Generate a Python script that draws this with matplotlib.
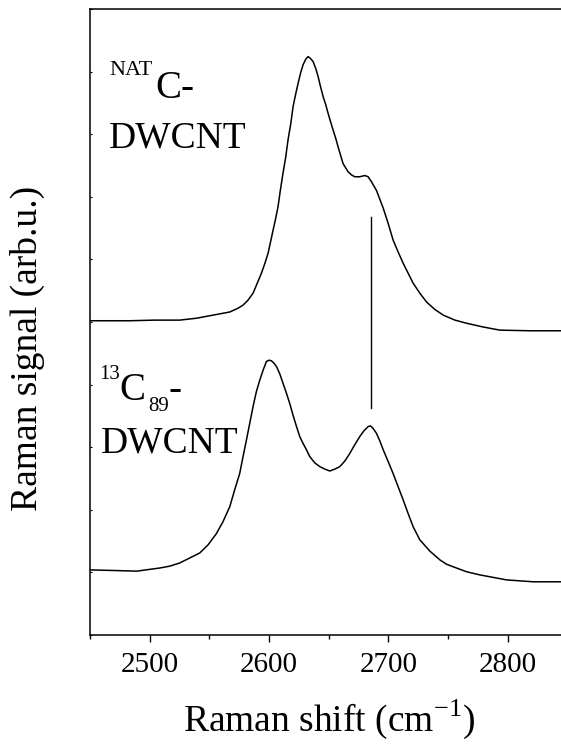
import numpy as np
import matplotlib
matplotlib.use("Agg")
import matplotlib.pyplot as plt
from matplotlib.ticker import MultipleLocator

plt.rcParams['font.family'] = ['Liberation Serif', 'DejaVu Serif']
plt.rcParams['mathtext.fontset'] = 'custom'
plt.rcParams['mathtext.rm'] = 'Liberation Serif'

# espectro natC-DWCNT (curva de arriba)
x_nat = [2450.5, 2483.2, 2504.2, 2525.1, 2539.1, 2553.1, 2567.1, 2574.0, 2578.2, 2582.4,
         2586.6, 2589.9, 2593.6, 2596.4, 2599.2, 2603.4, 2605.6, 2607.5, 2609.5, 2611.7,
         2614.0, 2615.9, 2618.2, 2620.1, 2622.4, 2624.3, 2626.3, 2628.5, 2630.8, 2632.7,
         2634.7, 2636.9, 2639.1, 2641.1, 2643.1, 2645.3, 2647.5, 2649.5, 2651.5, 2653.6,
         2655.9, 2657.8, 2659.8, 2662.0, 2666.2, 2669.0, 2671.8, 2676.0, 2680.2, 2683.0,
         2685.8, 2690.0, 2692.8, 2695.6, 2699.7, 2703.9, 2708.1, 2712.3, 2716.5, 2720.7,
         2726.3, 2731.9, 2738.9, 2745.9, 2755.7, 2765.5, 2779.4, 2793.4, 2818.5, 2844.5,
         2850]
y_nat = [5.02, 5.02, 5.03, 5.03, 5.06, 5.11, 5.16, 5.22, 5.27, 5.35,
         5.46, 5.61, 5.78, 5.93, 6.10, 6.47, 6.66, 6.84, 7.11, 7.38,
         7.64, 7.91, 8.17, 8.44, 8.65, 8.81, 8.97, 9.11, 9.20, 9.24,
         9.21, 9.16, 9.05, 8.92, 8.76, 8.60, 8.47, 8.33, 8.20, 8.07,
         7.93, 7.80, 7.67, 7.53, 7.40, 7.35, 7.32, 7.32, 7.34, 7.32,
         7.24, 7.10, 6.96, 6.82, 6.58, 6.31, 6.12, 5.94, 5.78, 5.62,
         5.46, 5.32, 5.20, 5.11, 5.03, 4.98, 4.92, 4.87, 4.86, 4.86,
         4.86]

# espectro 13C89-DWCNT (curva de abajo)
x_13c = [2449.7, 2470.7, 2489.1, 2508.4, 2516.8, 2525.1, 2533.5, 2541.9, 2548.9, 2555.9,
         2561.4, 2567.1, 2571.2, 2575.4, 2578.2, 2581.1, 2583.8, 2586.6, 2589.4, 2592.2,
         2595.0, 2597.8, 2600.0, 2602.0, 2604.2, 2606.2, 2609.0, 2611.7, 2614.6, 2617.3,
         2620.1, 2623.0, 2625.7, 2628.5, 2631.3, 2634.1, 2638.3, 2642.5, 2646.7, 2650.9,
         2655.1, 2659.3, 2663.5, 2667.6, 2671.8, 2676.0, 2679.4, 2683.0, 2685.0, 2687.2,
         2690.0, 2692.8, 2695.6, 2699.8, 2703.9, 2708.1, 2712.3, 2716.5, 2720.7, 2726.3,
         2734.7, 2743.1, 2748.7, 2754.2, 2765.5, 2776.6, 2787.8, 2799.0, 2821.3, 2843.7,
         2850]
y_13c = [1.04, 1.03, 1.02, 1.07, 1.10, 1.15, 1.23, 1.31, 1.44, 1.62,
         1.81, 2.05, 2.32, 2.58, 2.85, 3.12, 3.38, 3.65, 3.89, 4.07,
         4.23, 4.37, 4.39, 4.38, 4.34, 4.29, 4.17, 4.02, 3.86, 3.70,
         3.51, 3.33, 3.17, 3.06, 2.96, 2.85, 2.75, 2.69, 2.65, 2.62,
         2.65, 2.69, 2.78, 2.90, 3.04, 3.17, 3.26, 3.33, 3.34, 3.30,
         3.22, 3.10, 2.96, 2.77, 2.58, 2.37, 2.16, 1.94, 1.73, 1.52,
         1.34, 1.20, 1.13, 1.09, 1.01, 0.96, 0.92, 0.88, 0.85, 0.85,
         0.85]

# linea vertical en la banda G' del 13C
x_mark = 2685
y_mark = [3.63, 6.68]

fig = plt.figure(figsize=(5.61, 7.46), dpi=100)
# el eje derecho queda fuera de la figura (recortado)
ax = fig.add_axes([90/561, 1-635/746, 477.5/561, 626/746])

ax.plot(x_nat, y_nat, color='black', lw=1.1)
ax.plot(x_13c, y_13c, color='black', lw=1.1)
ax.plot([x_mark, x_mark], y_mark, color='black', lw=1.0)

ax.set_xlim(2450, 2850)
ax.set_ylim(0, 10)
ax.xaxis.set_major_locator(MultipleLocator(100))
ax.xaxis.set_minor_locator(MultipleLocator(50))
ax.yaxis.set_major_locator(MultipleLocator(1))
ax.tick_params(axis='x', which='major', direction='out', length=5, width=1.0,
               labelsize=21, pad=7, top=False)
ax.tick_params(axis='x', which='minor', direction='out', length=3, width=1.0, top=False)
ax.tick_params(axis='y', which='major', direction='in', length=1.5, width=0.8,
               labelleft=False)
for s in ax.spines.values():
    s.set_linewidth(1.1)

ax.set_xlabel(r'Raman shift (cm$^{\mathrm{-1}}$)', fontsize=27, labelpad=14)
ax.set_ylabel('Raman signal (arb.u.)', fontsize=27)
ax.yaxis.set_label_coords((45-90)/477.5, (635-348)/626)

# etiquetas de las muestras (coordenadas en pixeles de la figura)
def ftext(px, py, s, size):
    fig.text(px/561, 1-py/746, s, fontsize=size, ha='left', va='baseline')

ftext(109, 75, 'NAT', 16)
ftext(155, 98, 'C-', 28)
ftext(109, 147, 'DWCNT', 27)

ftext(99, 379, '13', 15)
ftext(119, 400, 'C', 28)
ftext(148, 411, '89', 15)
ftext(168, 400, '-', 28)
ftext(101, 453, 'DWCNT', 27)

plt.savefig('out.png', dpi=100)
